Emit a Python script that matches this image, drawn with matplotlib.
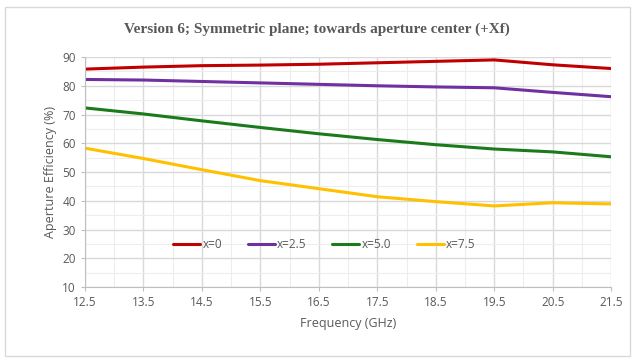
import matplotlib
matplotlib.use("Agg")
import matplotlib.pyplot as plt
from matplotlib.patches import Rectangle
import numpy as np

freq = [12.5, 13.5, 14.5, 15.5, 16.5, 17.5, 18.5, 19.5, 20.5, 21.5]
eff_x0 = [85.8, 86.5, 87.0, 87.2, 87.5, 88.0, 88.5, 89.0, 87.3, 86.0]
eff_x25 = [82.2, 82.0, 81.5, 81.0, 80.5, 80.0, 79.6, 79.3, 77.7, 76.2]
eff_x50 = [72.3, 70.2, 67.8, 65.5, 63.3, 61.3, 59.5, 58.0, 57.0, 55.3]
eff_x75 = [58.3, 54.7, 50.8, 47.0, 44.2, 41.4, 39.7, 38.2, 39.3, 38.9]
labels = ["x=0", "x=2.5", "x=5.0", "x=7.5"]
colors = ["#C00000", "#7030A0", "#1B7A1B", "#FFC000"]

plt.rcParams['font.family'] = ['Open Sans', 'DejaVu Sans']
text_col = "#595959"

fig = plt.figure(figsize=(6.34, 3.61), dpi=100)
fig.patches.append(Rectangle((0.008, 0.015), 0.985, 0.965, transform=fig.transFigure,
                             fill=False, edgecolor="#D9D9D9", linewidth=1.0))
ax = fig.add_axes([0.134, 0.205, 0.830, 0.637])

for ys, lab, c in zip([eff_x0, eff_x25, eff_x50, eff_x75], labels, colors):
    ax.plot(freq, ys, color=c, linewidth=2.2, label=lab, solid_capstyle="round")

ax.set_xlim(12.5, 21.5)
ax.set_ylim(10, 90)
ax.set_xticks(np.arange(12.5, 21.6, 1.0))
ax.set_xticks(np.arange(13.0, 21.6, 1.0), minor=True)
ax.set_yticks(np.arange(10, 91, 10))
ax.set_yticks(np.arange(15, 90, 10), minor=True)
ax.set_xticklabels([f"{v:.1f}" for v in np.arange(12.5, 21.6, 1.0)])
ax.grid(which="major", color="#D9D9D9", linewidth=1.0)
ax.grid(which="minor", color="#EDEDED", linewidth=0.8)
ax.set_axisbelow(True)
for s in ["top", "right"]:
    ax.spines[s].set_visible(False)
for s in ["left", "bottom"]:
    ax.spines[s].set_color("#BFBFBF")
ax.tick_params(which="major", length=3, color="#BFBFBF", labelsize=8.5, labelcolor=text_col)
ax.tick_params(which="minor", length=0)

ax.set_xlabel("Frequency (GHz)", fontsize=9, color=text_col, labelpad=6)
ax.set_ylabel("Aperture Efficiency (%)", fontsize=9, color=text_col, labelpad=4)

leg = ax.legend(loc="center", bbox_to_anchor=(0.455, 0.185), ncol=4, frameon=False,
                fontsize=8.5, handlelength=2.3, handletextpad=0.2, columnspacing=2.15)
for t in leg.get_texts():
    t.set_color(text_col)

fig.text(0.5, 0.92, "Version 6; Symmetric plane; towards aperture center (+Xf)",
         ha="center", va="center", fontsize=11, fontweight="bold",
         family=["Liberation Serif", "DejaVu Serif"], color=text_col)

fig.savefig("out.png", dpi=100)
